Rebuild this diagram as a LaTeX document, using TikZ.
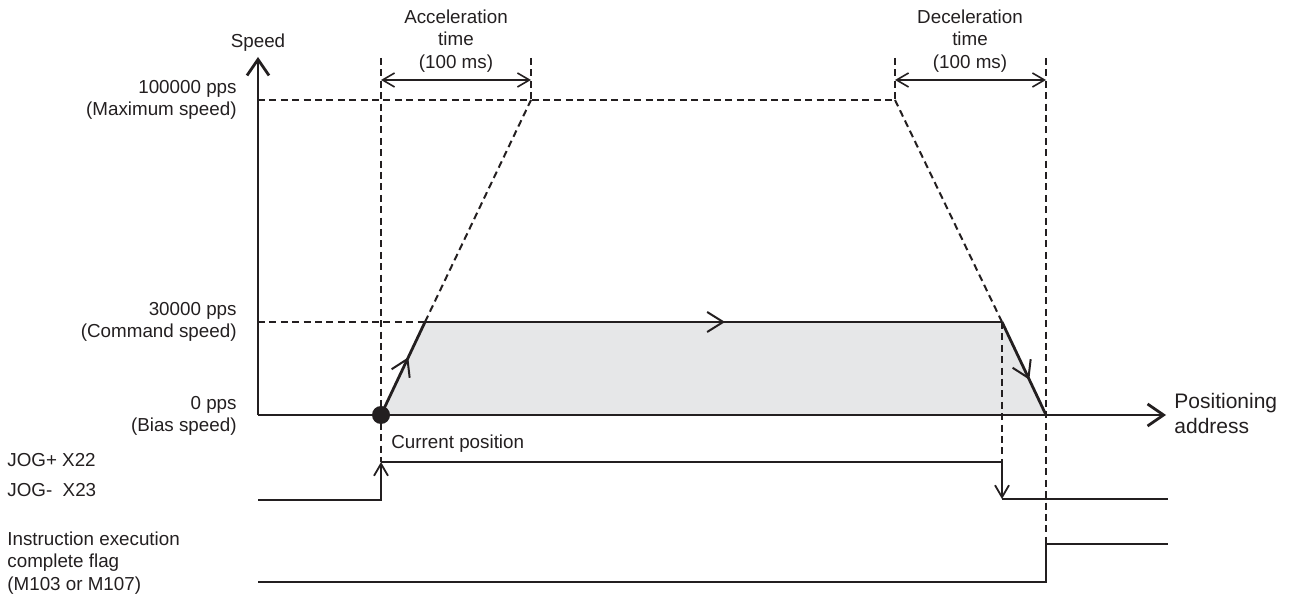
\documentclass[tikz,border=0pt]{standalone}
\usepackage{fontspec}
\setmainfont{Liberation Sans}
\usetikzlibrary{arrows.meta}
\usetikzlibrary{decorations.markings}
\usetikzlibrary{positioning}

\definecolor{ink}{RGB}{35,31,32}
\definecolor{areagray}{RGB}{230,231,232}

\begin{document}
\begin{tikzpicture}[x=0.5pt, y=-0.5pt, every node/.style={font=\fontsize{9.4}{11.2}\selectfont, text=ink, inner sep=0pt},
    axis/.style={draw=ink, line width=1.4pt, -{Straight Barb[length=8pt,width=11pt]}},
    guide/.style={draw=ink, line width=1pt, dash pattern=on 3.5pt off 2.2pt},
    ramp/.style={draw=ink, line width=1.4pt},
    signal/.style={draw=ink, line width=0.9pt},
    edge/.style={draw=ink, line width=0.9pt, -{Straight Barb[length=6pt,width=7pt]}},
    span/.style={draw=ink, line width=0.8pt, {Straight Barb[length=6pt,width=7pt]}-{Straight Barb[length=6pt,width=7pt]}},
    flow/.style={postaction={decorate}, decoration={markings, mark=at position #1 with {\arrow[line width=1pt]{Straight Barb[length=8pt,width=10pt]}}}}]
        \useasboundingbox (0,0) rectangle (1289,597);

        % Points of the speed profile
        \coordinate (o) at (258,415);
        \coordinate (ytip) at (258,57);
        \coordinate (xtip) at (1166,415);
        \coordinate (start) at (381,415);
        \coordinate (up) at (425,322);
        \coordinate (down) at (1002,322);
        \coordinate (stop) at (1046,415);
        \coordinate (amax) at (531,100);
        \coordinate (dmax) at (895,100);
        \coordinate (vmaxy) at (258,100);
        \coordinate (vcmdy) at (258,322);

        % Tops of the vertical guides
        \coordinate (atop0) at (381,58);
        \coordinate (atop1) at (531,58);
        \coordinate (dtop0) at (895,58);
        \coordinate (dtop1) at (1046,58);

        % Signal corners
        \coordinate (j0) at (258,500);
        \coordinate (j1) at (381,462);
        \coordinate (j2) at (1002,499);
        \coordinate (j3) at (1168,499);
        \coordinate (f0) at (258,582);
        \coordinate (f1) at (1046,544);
        \coordinate (f2) at (1168,544);

        % Shaded area under the profile
        \fill[areagray] (start) -- (up) -- (down) -- (stop) -- cycle;

        % Dashed guides
        \draw[guide] (vmaxy) -- (dmax);
        \draw[guide] (vcmdy) -- (up);
        \draw[guide] (up) -- (amax);
        \draw[guide] (dmax) -- (down);
        \draw[guide] (atop0) -- (j1);
        \draw[guide] (atop1) -- (amax);
        \draw[guide] (dtop0) -- (dmax);
        \draw[guide] (dtop1) -- (f1);
        \draw[guide] (down) -- (down |- j1);

        % Time spans
        \draw[span] (381,80) -- (531,80);
        \draw[span] (895,80) -- (1046,80);

        % Axes
        \draw[axis] (o) -- (ytip);
        \draw[axis] (o) -- (xtip);

        % Speed profile
        \draw[ramp, flow=0.62] (start) -- (up);
        \draw[ramp, flow=0.52] (up) -- (down);
        \draw[ramp, flow=0.62] (down) -- (stop);
        \node[circle, fill=ink, minimum size=9pt] (pos0) at (start) {};

        % Signals
        \draw[edge] (j0) -| (j1);
        \draw[edge] (j1) -| (j2);
        \draw[signal] (j2) -- (j3);
        \draw[signal] (f0) -| (f1) -- (f2);

        % Labels
        \node (speed) at (258,43) {Speed};
        \node[align=center] (acc) at (456,41) {Acceleration\\time\\(100 ms)};
        \node[align=center] (dec) at (970,41) {Deceleration\\time\\(100 ms)};
        \node[align=right, anchor=east] (vmax) at (237,100) {100000 pps\\(Maximum speed)};
        \node[align=right, anchor=east] (vcmd) at (237,322) {30000 pps\\(Command speed)};
        \node[align=right, anchor=east] (vbias) at (237,416) {0 pps\\(Bias speed)};
        \node[anchor=west] (curlbl) at (391,444) {Current position};
        \node[align=left, anchor=west, font=\fontsize{10.5}{12.5}\selectfont] (addr) at (1174,413) {Positioning\\address};
        \node[align=left, anchor=west] (jog) at (7,475) {JOG+ X22\\[4pt]JOG-\ \ X23};
        \node[align=left, anchor=west] (flag) at (7,563) {Instruction execution\\complete flag\\(M103 or M107)};
      \end{tikzpicture}
\end{document}
